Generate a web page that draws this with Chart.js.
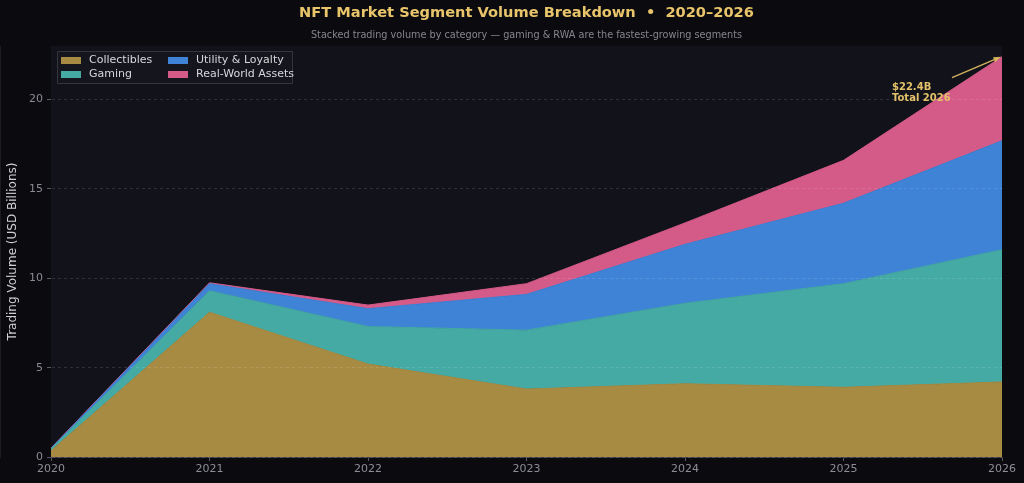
<!DOCTYPE html>
<html>
<head>
<meta charset="utf-8">
<script src="https://cdn.jsdelivr.net/npm/chart.js@4.4.1/dist/chart.umd.min.js"></script>
<style>
  html, body { margin: 0; padding: 0; background: #0b0b0f; }
  #wrap { width: 1024px; height: 483px; }
</style>
</head>
<body>
<div id="wrap"><canvas id="chart" width="1024" height="483"></canvas></div>
<script>
// data (USD billions)
const years = ['2020', '2021', '2022', '2023', '2024', '2025', '2026'];
const collectibles = [0.35, 8.1, 5.2, 3.8, 4.1, 3.9, 4.2];
const gaming = [0.1, 1.2, 2.1, 3.3, 4.5, 5.8, 7.4];
const utility = [0.03, 0.4, 1.0, 2.0, 3.3, 4.5, 6.1];
const rwa = [0.02, 0.05, 0.2, 0.6, 1.2, 2.4, 4.7];
const yTicks = [0, 5, 10, 15, 20];

const titleText = 'NFT Market Segment Volume Breakdown  \u2022  2020\u20132026';
const subtitleText = 'Stacked trading volume by category \u2014 gaming & RWA are the fastest-growing segments';
const font = "'DejaVu Sans', sans-serif";

const series = [
    { label: 'Collectibles', data: collectibles, color: '#a88b43' },
    { label: 'Gaming', data: gaming, color: '#45aaa4' },
    { label: 'Utility & Loyalty', data: utility, color: '#3f83d7' },
    { label: 'Real-World Assets', data: rwa, color: '#d45a88' }
];

const frame = {
    id: 'frame',
    beforeDraw(chart) {
        const ctx = chart.ctx;
        const a = chart.chartArea;
        ctx.save();
        ctx.fillStyle = '#0b0b0f';
        ctx.fillRect(0, 0, chart.width, chart.height);
        ctx.fillStyle = '#12131a';
        ctx.fillRect(a.left, a.top, a.right - a.left, a.bottom - a.top);
        const cx = (a.left + a.right) / 2;
        ctx.textAlign = 'center';
        ctx.textBaseline = 'middle';
        ctx.fillStyle = '#e8c46b';
        ctx.font = 'bold 14.6px ' + font;
        ctx.fillText(titleText, cx, 13);
        ctx.fillStyle = '#85858e';
        ctx.font = '9.7px ' + font;
        ctx.fillText(subtitleText, cx, 35);
        ctx.restore();
    },
    afterDraw(chart) {
        const ctx = chart.ctx;
        const x = chart.scales.x;
        const y = chart.scales.y;
        ctx.save();
        // legend box
        ctx.fillStyle = 'rgba(22,23,30,0.9)';
        ctx.strokeStyle = '#34353d';
        ctx.lineWidth = 1;
        ctx.beginPath();
        ctx.rect(57.5, 51.5, 235, 32);
        ctx.fill();
        ctx.stroke();
        ctx.font = '11px ' + font;
        ctx.textBaseline = 'middle';
        ctx.textAlign = 'left';
        const cols = [61, 168];
        const rows = [60, 74];
        series.forEach(function(s, i) {
            const cx = cols[Math.floor(i / 2)];
            const cy = rows[i % 2];
            ctx.fillStyle = s.color;
            ctx.fillRect(cx, cy - 3, 20, 7);
            ctx.fillStyle = '#d6d6da';
            ctx.fillText(s.label, cx + 28, cy + 0.5);
        });
        // total annotation
        const total = collectibles[6] + gaming[6] + utility[6] + rwa[6];
        const tx = x.getPixelForValue(6);
        const ty = y.getPixelForValue(total);
        const sx = tx - 50;
        const sy = ty + 21;
        ctx.strokeStyle = '#d4b25e';
        ctx.fillStyle = '#d4b25e';
        ctx.lineWidth = 1.3;
        ctx.beginPath();
        ctx.moveTo(sx, sy);
        ctx.lineTo(tx - 3, ty + 1);
        ctx.stroke();
        const ang = Math.atan2(ty + 1 - sy, tx - 3 - sx);
        ctx.beginPath();
        ctx.moveTo(tx - 1, ty);
        ctx.lineTo(tx - 1 - 8 * Math.cos(ang - 0.35), ty - 8 * Math.sin(ang - 0.35));
        ctx.lineTo(tx - 1 - 8 * Math.cos(ang + 0.35), ty - 8 * Math.sin(ang + 0.35));
        ctx.closePath();
        ctx.fill();
        ctx.fillStyle = '#e3c06a';
        ctx.font = 'bold 10px ' + font;
        ctx.textAlign = 'left';
        ctx.fillText('$' + total.toFixed(1) + 'B', 892, 87);
        ctx.fillText('Total 2026', 892, 98);
        ctx.restore();
    }
};

const ctx = document.getElementById('chart').getContext('2d');
new Chart(ctx, {
    type: 'line',
    data: {
        labels: years,
        datasets: series.map(function(s, i) {
            return {
                label: s.label,
                data: s.data,
                backgroundColor: s.color,
                borderColor: s.color,
                borderWidth: 1,
                pointRadius: 0,
                tension: 0,
                fill: i === 0 ? 'origin' : '-1'
            };
        })
    },
    options: {
        responsive: false,
        animation: false,
        layout: { padding: { top: 46, right: 22, left: 0, bottom: 0 } },
        plugins: {
            legend: { display: false },
            tooltip: { enabled: false }
        },
        scales: {
            x: {
                offset: false,
                grid: { drawOnChartArea: false, drawTicks: true, tickLength: 4, tickColor: '#5a5b63' },
                border: { color: '#3a3b44' },
                ticks: { color: '#8d8d97', font: { family: font, size: 11 }, padding: 2, maxRotation: 0 },
                afterFit(scale) { scale.height = 26; }
            },
            y: {
                stacked: true,
                min: 0,
                max: 23,
                afterBuildTicks(scale) { scale.ticks = yTicks.map(function(v) { return { value: v }; }); },
                grid: { color: 'rgba(255,255,255,0.13)', tickColor: '#5a5b63', tickLength: 4, z: 1 },
                border: { color: '#2c2d35', dash: [3, 3] },
                ticks: { color: '#8a8a94', font: { family: font, size: 11 }, padding: 4 },
                title: { display: true, text: 'Trading Volume (USD Billions)', color: '#cfcfd4', font: { family: font, size: 12 }, padding: 6 },
                afterFit(scale) { scale.width = 51; }
            }
        }
    },
    plugins: [frame]
});
</script>
</body>
</html>
